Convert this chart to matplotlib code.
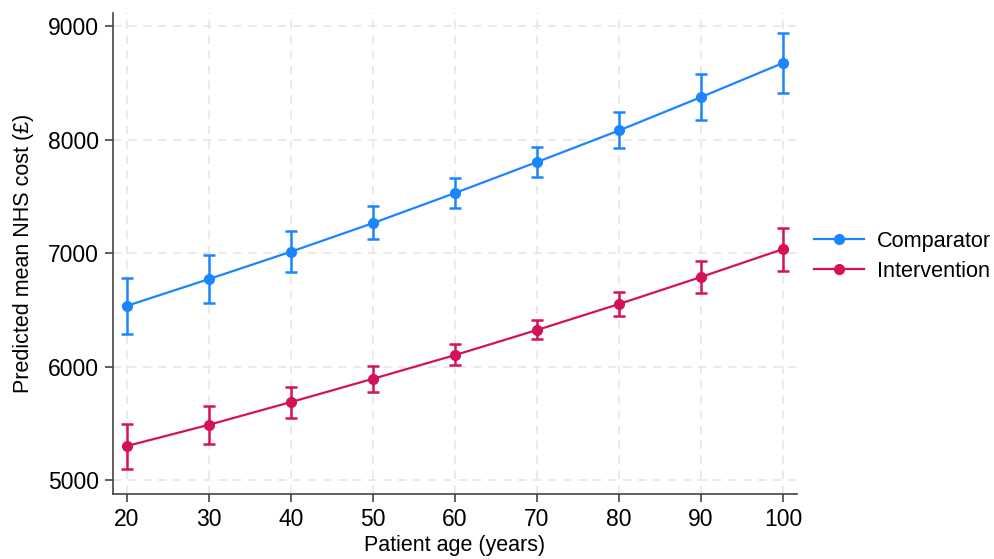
import matplotlib
matplotlib.use("Agg")
import matplotlib.pyplot as plt
from matplotlib.lines import Line2D

# patient age (years)
age = [20, 30, 40, 50, 60, 70, 80, 90, 100]

# comparator: predicted mean cost and 95% CI
comp_mean = [6535, 6771, 7012, 7264, 7529, 7802, 8080, 8374, 8675]
comp_lo = [6286, 6560, 6833, 7123, 7396, 7670, 7925, 8172, 8410]
comp_hi = [6780, 6982, 7194, 7414, 7661, 7934, 8246, 8577, 8938]

# intervention: predicted mean cost and 95% CI
int_mean = [5300, 5487, 5687, 5892, 6101, 6322, 6551, 6789, 7035]
int_lo = [5097, 5317, 5546, 5775, 6013, 6242, 6445, 6648, 6841]
int_hi = [5493, 5652, 5819, 6004, 6198, 6410, 6656, 6930, 7220]

blue = "#1a85ff"
red = "#d41159"

plt.rcParams["font.family"] = ["Liberation Sans", "DejaVu Sans"]

fig = plt.figure(figsize=(9.95, 5.59), dpi=100)
ax = fig.add_axes([0.1136, 0.1163, 0.6874, 0.8604])

handles = []
for mean, lo, hi, col, name in [(comp_mean, comp_lo, comp_hi, blue, "Comparator"),
                                (int_mean, int_lo, int_hi, red, "Intervention")]:
    err = [[m - l for m, l in zip(mean, lo)], [h - m for m, h in zip(mean, hi)]]
    ax.errorbar(age, mean, yerr=err, color=col, linewidth=1.6, marker="o",
                markersize=7, elinewidth=1.8, capsize=4, capthick=1.8)
    handles.append(Line2D([], [], color=col, linewidth=1.6, marker="o",
                          markersize=7, label=name))

ax.set_xlim(18.3, 101.7)
ax.set_ylim(4877, 9115)
ax.set_xticks(age)
ax.set_yticks([5000, 6000, 7000, 8000, 9000])

ax.grid(True, color="#e6e6e6", linestyle=(0, (5, 4)), linewidth=1.2)
ax.set_axisbelow(True)
for s in ["top", "right"]:
    ax.spines[s].set_visible(False)
for s in ["left", "bottom"]:
    ax.spines[s].set_color("#444444")
    ax.spines[s].set_linewidth(1.2)
ax.tick_params(labelsize=16.5, length=6, width=1.2, color="#444444", pad=4)

ax.set_xlabel("Patient age (years)", fontsize=15.5, labelpad=3)
ax.set_ylabel("Predicted mean NHS cost (£)", fontsize=15.5, labelpad=10)

ax.legend(handles=handles, loc="center left", bbox_to_anchor=(0.997, 0.494),
          frameon=False, fontsize=15.6, handlelength=2.3, labelspacing=0.42,
          handletextpad=0.6, borderaxespad=0.5, borderpad=0.4)

fig.savefig("out.png", dpi=100)
